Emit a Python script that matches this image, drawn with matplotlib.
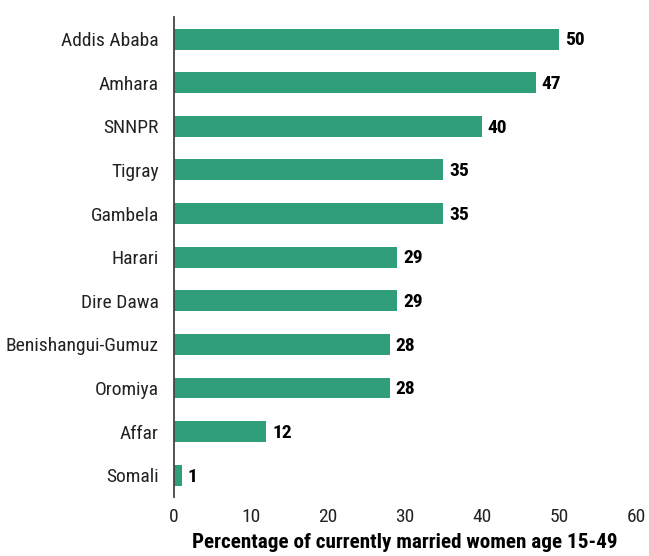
import matplotlib.pyplot as plt

# Regions and percentages, top to bottom
regions = ["Addis Ababa", "Amhara", "SNNPR", "Tigray", "Gambela", "Harari",
           "Dire Dawa", "Benishangui-Gumuz", "Oromiya", "Affar", "Somali"]
values = [50, 47, 40, 35, 35, 29, 29, 28, 28, 12, 1]
xticks = [0, 10, 20, 30, 40, 50, 60]

plt.rcParams["font.family"] = ["Roboto Condensed", "Archivo Narrow", "PT Sans Narrow",
                               "Sofia Sans Condensed", "Barlow Condensed", "DejaVu Sans"]

fig = plt.figure(figsize=(6.49, 5.56), dpi=100)
ax = fig.add_axes([0.268, 0.106, 0.712, 0.863])

pos = list(range(len(regions)))
ax.barh(pos, values, height=0.48, color="#309d7b")
for p, v in zip(pos, values):
    ax.text(v + 0.75, p + 0.03, str(v), va="center", ha="left",
            fontsize=14, fontweight="bold", color="black")

ax.set_ylim(len(regions) - 0.5, -0.5)
ax.set_xlim(0, 60)
ax.set_yticks(pos)
ax.set_yticklabels(regions, fontsize=14, color="#222222")
ax.set_xticks(xticks)
ax.set_xticklabels([str(t) for t in xticks], fontsize=14, color="#222222")
ax.tick_params(axis="both", length=0)
ax.tick_params(axis="y", pad=11)
ax.tick_params(axis="x", pad=8)

for s in ["top", "right", "bottom"]:
    ax.spines[s].set_visible(False)
ax.spines["left"].set_color("#444444")
ax.spines["left"].set_linewidth(1.3)

ax.set_xlabel("Percentage of currently married women age 15-49",
              fontsize=15.2, fontweight="bold", labelpad=5)

fig.savefig("out.png", dpi=100)
